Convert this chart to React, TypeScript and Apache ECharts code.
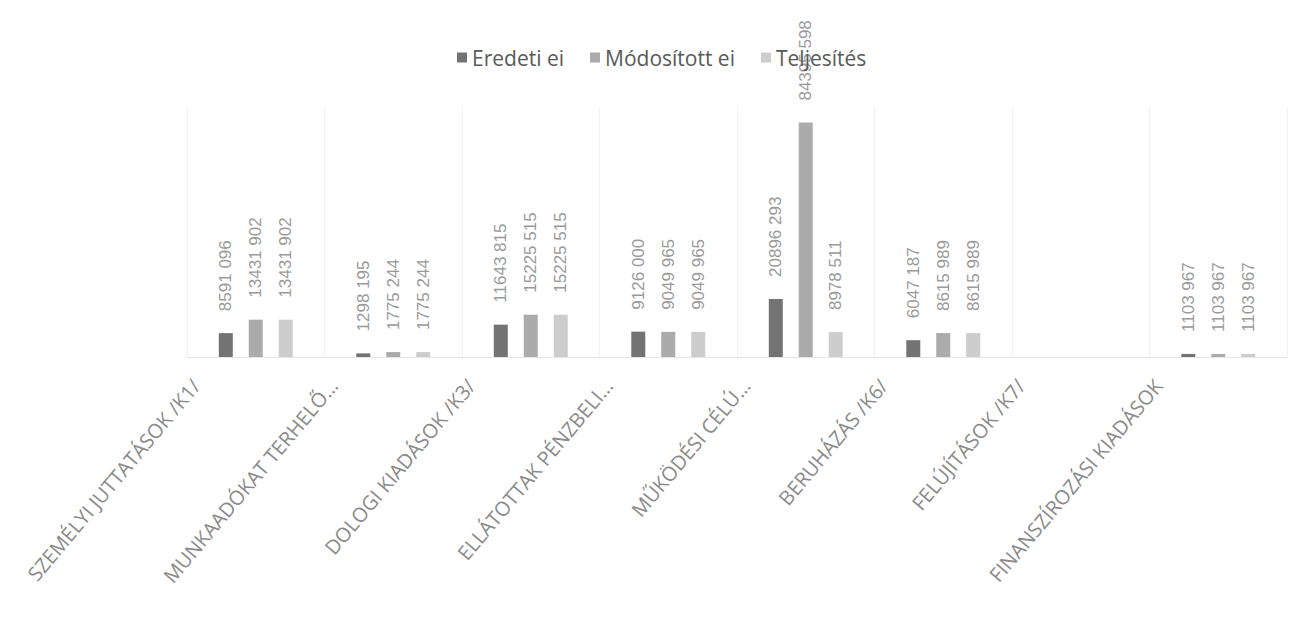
import React, { useEffect, useRef } from "react";
import * as echarts from "echarts";

const categories = [
  "SZEMÉLYI JUTTATÁSOK /K1/",
  "MUNKAADÓKAT TERHELŐ…",
  "DOLOGI KIADÁSOK /K3/",
  "ELLÁTOTTAK PÉNZBELI…",
  "MŰKÖDÉSI CÉLÚ…",
  "BERUHÁZÁS /K6/",
  "FELÚJÍTÁSOK /K7/",
  "FINANSZÍROZÁSI KIADÁSOK",
];

const seriesNames = ["Eredeti ei", "Módosított ei", "Teljesítés"];

const eredeti = [8591096, 1298195, 11643815, 9126000, 20896293, 6047187, null, 1103967];
const modositott = [13431902, 1775244, 15225515, 9049965, 84395598, 8615989, null, 1103967];
const teljesites = [13431902, 1775244, 15225515, 9049965, 8978511, 8615989, null, 1103967];

const colors = ["#737373", "#ababab", "#cdcdcd"];

// the reference shows only the last three digits separated: "13431 902"
const fmt = (v: number) => {
  const s = String(v);
  return s.length > 3 ? s.slice(0, -3) + " " + s.slice(-3) : s;
};

export default function App() {
  const ref = useRef<HTMLDivElement>(null);
  useEffect(() => {
    if (!ref.current) return;
    const chart = echarts.init(ref.current, null, { renderer: "svg" });
    const data = [eredeti, modositott, teljesites];
    chart.setOption({
      animation: false,
      backgroundColor: "#ffffff",
      legend: {
        left: 452,
        top: 42,
        itemWidth: 10,
        itemHeight: 10,
        itemGap: 26,
        icon: "rect",
        textStyle: { fontFamily: "Open Sans", fontSize: 21, color: "#595959" },
        data: seriesNames,
      },
      grid: { left: 187, right: 2, top: 107, bottom: 271, containLabel: false },
      xAxis: {
        type: "category",
        data: categories,
        axisTick: { show: false },
        axisLine: { lineStyle: { color: "#e6e6e6" } },
        splitLine: { show: true, lineStyle: { color: "#f0f0f0" } },
        axisLabel: {
          rotate: 50,
          interval: 0,
          margin: 2,
          fontFamily: "Open Sans",
          fontSize: 20,
          color: "#8a8a8a",
          verticalAlign: "bottom",
          padding: [0, 56, 21, 0],
        },
      },
      yAxis: {
        type: "value",
        min: 0,
        max: 90000000,
        show: false,
        splitLine: { show: false },
      },
      series: seriesNames.map((name, i) => ({
        name,
        type: "bar",
        data: data[i],
        barWidth: 14,
        barGap: "114%",
        itemStyle: { color: colors[i] },
        label: {
          show: true,
          position: "top",
          rotate: 90,
          align: "left",
          verticalAlign: "middle",
          distance: 22,
          fontFamily: "Liberation Sans",
          fontSize: 17,
          color: "#9a9a9a",
          formatter: (p: any) => (p.value == null ? "" : fmt(p.value)),
        },
      })),
    });
    return () => chart.dispose();
  }, []);
  return (
    <div
      ref={ref}
      style={{ position: "fixed", left: 0, top: 0, width: 1289, height: 628 }}
    />
  );
}
